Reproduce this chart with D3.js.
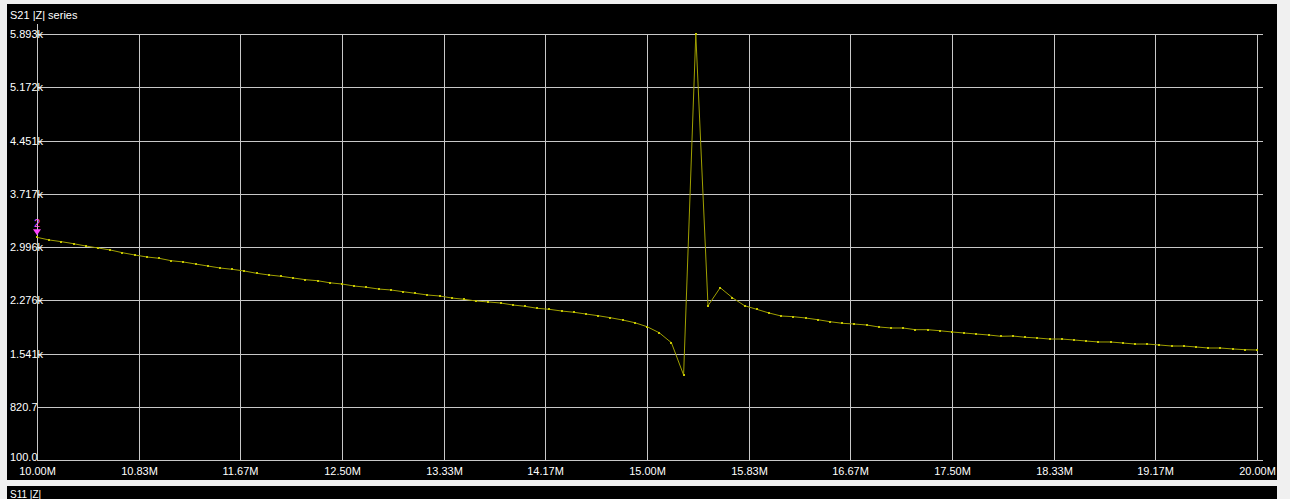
<!DOCTYPE html>
<html>
<head>
<meta charset="utf-8">
<script src="https://cdn.jsdelivr.net/npm/d3@7"></script>
<style>
  html, body { margin: 0; padding: 0; background: #f0f0f0; }
  svg { display: block; }
  text { font-family: "Liberation Sans", Arial, sans-serif; }
</style>
</head>
<body>
<svg id="chart" width="1290" height="499"></svg>
<script>
// ---- data ----
const sweepStartMHz = 10.0;
const sweepStepMHz = 0.1;
const zMagnitude = [
  3128, 3092, 3069, 3041, 3010, 2983, 2956, 2919, 2888, 2861,
  2843, 2810, 2793, 2765, 2738, 2711, 2693, 2670, 2639, 2616,
  2598, 2575, 2552, 2538, 2510, 2493, 2466, 2449, 2425, 2412,
  2389, 2367, 2344, 2330, 2303, 2285, 2262, 2249, 2235, 2208,
  2190, 2163, 2149, 2126, 2109, 2085, 2062, 2035, 2004, 1967,
  1913, 1831, 1695, 1256, 5893, 2198, 2443, 2307, 2198, 2149,
  2099, 2058, 2049, 2031, 2008, 1981, 1959, 1949, 1936, 1909,
  1895, 1895, 1872, 1872, 1858, 1841, 1827, 1813, 1800, 1782,
  1786, 1769, 1759, 1745, 1745, 1732, 1718, 1705, 1705, 1691,
  1677, 1677, 1664, 1650, 1650, 1637, 1623, 1623, 1610, 1600,
  1596
];
const freqMHz = zMagnitude.map((_, i) => +(sweepStartMHz + i * sweepStepMHz).toFixed(2));
const xTickLabels = ["10.00M","10.83M","11.67M","12.50M","13.33M","14.17M","15.00M",
                     "15.83M","16.67M","17.50M","18.33M","19.17M","20.00M"];
const yTickLabels = ["100.0","820.7","1.541k","2.276k","2.996k","3.717k","4.451k","5.172k","5.893k"];
const xDomain = [10, 20];
const yDomain = [100, 5893];
const markerIndex = 0;
const markerLabel = "2";
const title = "S21 |Z| series";
const nextTitle = "S11 |Z|";

// ---- layout ----
const svg = d3.select("#chart");
const L = 37, R = 1257, T = 34, B = 460, gridRight = 1263;

// panels
svg.append("rect").attr("x", 7).attr("y", 4).attr("width", 1270).attr("height", 476).attr("fill", "#000");
svg.append("rect").attr("x", 7).attr("y", 486).attr("width", 1270).attr("height", 20).attr("fill", "#000");

svg.append("text").attr("x", 10).attr("y", 19).attr("fill", "#fff")
  .attr("font-size", 11).text(title);
svg.append("text").attr("x", 10).attr("y", 498).attr("fill", "#fff")
  .attr("font-size", 10).text(nextTitle);

const x = d3.scaleLinear().domain(xDomain).range([L, R]);
const y = d3.scaleLinear().domain(yDomain).range([B, T]);
const xGrid = x.copy().interpolate(d3.interpolateRound);
const yGrid = y.copy().interpolate(d3.interpolateRound);

const xTicks = xTickLabels.map((_, i) => xDomain[0] + i * (xDomain[1] - xDomain[0]) / (xTickLabels.length - 1));
const yTicks = yTickLabels.map((_, i) => yDomain[0] + i * (yDomain[1] - yDomain[0]) / (yTickLabels.length - 1));

// y grid + labels
const gy = svg.append("g").attr("transform", `translate(${L},0)`)
  .call(d3.axisLeft(yGrid).tickValues(yTicks).tickSize(-(gridRight - L))
    .tickFormat((d, i) => yTickLabels[i]));
gy.select(".domain").remove();
gy.selectAll("line").attr("stroke", "#c8c8c8");
gy.selectAll("text").attr("x", 10 - L).attr("text-anchor", "start")
  .attr("fill", "#fff").attr("font-size", 11)
  .attr("font-family", "Liberation Sans, Arial, sans-serif")
  .attr("dy", (d, i) => i === 0 ? "0em" : "0.34em");

// x grid + labels
const gx = svg.append("g").attr("transform", `translate(0,${B})`)
  .call(d3.axisBottom(xGrid).tickValues(xTicks).tickSize(-(B - T)).tickPadding(7)
    .tickFormat((d, i) => xTickLabels[i]));
gx.select(".domain").remove();
gx.selectAll("line").attr("stroke", "#c8c8c8");
gx.selectAll("text").attr("fill", "#fff").attr("font-size", 11)
  .attr("font-family", "Liberation Sans, Arial, sans-serif");

// left axis extension
svg.append("line").attr("x1", L + 0.5).attr("x2", L + 0.5).attr("y1", 24).attr("y2", T)
  .attr("stroke", "#c8c8c8");

// series line
const data = freqMHz.map((f, i) => ({ f, v: zMagnitude[i] }));
svg.append("path").datum(data)
  .attr("fill", "none").attr("stroke", "#a0a000").attr("stroke-width", 1)
  .attr("d", d3.line().x(d => x(d.f)).y(d => y(d.v)));

svg.append("g").selectAll("rect").data(data).join("rect")
  .attr("x", d => Math.round(x(d.f)) - 1).attr("y", d => Math.round(y(d.v)) - 1)
  .attr("width", 2).attr("height", 2).attr("fill", "#c8c800");

// marker
const mx = x(data[markerIndex].f), my = y(data[markerIndex].v);
svg.append("path")
  .attr("d", `M${mx - 4},${my - 8} L${mx + 4},${my - 8} L${mx},${my - 2} Z`)
  .attr("fill", "#ff44ff");
svg.append("text").attr("x", mx).attr("y", my - 10).attr("text-anchor", "middle")
  .attr("fill", "#ff55ff").attr("font-size", 11).text(markerLabel);
</script>
</body>
</html>
